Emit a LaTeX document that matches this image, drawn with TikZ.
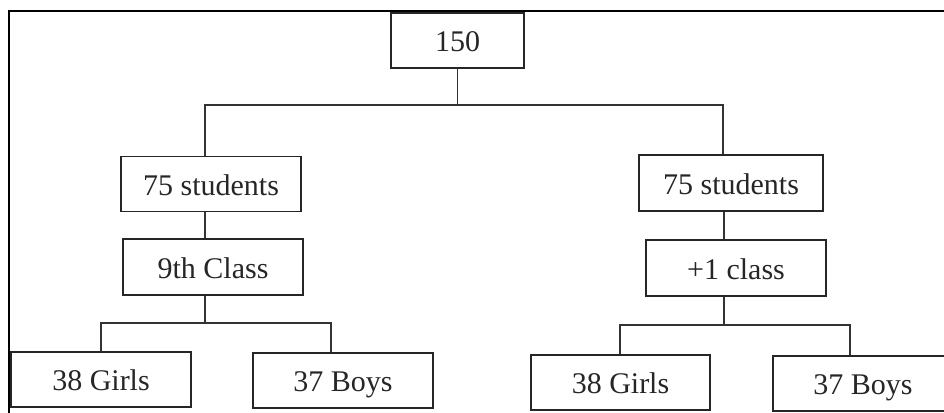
\documentclass[tikz,border=0pt]{standalone}
\usepackage{fontspec}
\setmainfont{Liberation Serif}
\begin{document}
\begin{tikzpicture}[x=1pt,y=-1pt,
  box/.style={draw=black!85,line width=1.4pt,inner sep=0pt,minimum width=180pt,minimum height=55pt,
    text height=22pt,text depth=0pt,
    font=\fontsize{30}{34}\selectfont,text=black!85},
  conn/.style={draw=black!80,line width=1.4pt}]
\useasboundingbox (0,0) rectangle (944,412);
\clip (0,0) rectangle (944,412);
\draw[line width=2.2pt] (9,420) -- (9,11) -- (950,11);
\node[box,minimum width=133pt] (top) at (457.5,40.5) {150};
\node[box] (L75) at (211,184) {75 students};
\node[box,minimum width=184pt,minimum height=56pt] (R75) at (731,183) {75 students};
\node[box,minimum height=56pt] (L9) at (213,267) {9th Class};
\node[box,minimum height=56pt] (R1) at (736,268) {+1 class};
\node[box] (LG) at (101,379.5) {38 Girls};
\node[box] (LB) at (343,380.5) {37 Boys};
\node[box,minimum width=179pt] (RG) at (620.5,382.5) {38 Girls};
\node[box] (RB) at (863,383.5) {37 Boys};
\coordinate (a1) at (205,105);
\coordinate (a2) at (723,105);
\coordinate (b1) at (101,323);
\coordinate (b2) at (331,323);
\coordinate (c0) at (724,325);
\coordinate (c1) at (620,325);
\coordinate (c2) at (850,325);
\draw[conn] (top.south) |- (a1) -- (a1 |- L75.north);
\draw[conn] (top.south) |- (a2) -- (a2 |- R75.north);
\draw[conn] (a1 |- L75.south) -- (a1 |- L9.north);
\draw[conn] (c0 |- R75.south) -- (c0 |- R1.north);
\draw[conn] (a1 |- L9.south) |- (b1) -- (b1 |- LG.north);
\draw[conn] (a1 |- L9.south) |- (b2) -- (b2 |- LB.north);
\draw[conn] (c0 |- R1.south) |- (c1) -- (c1 |- RG.north);
\draw[conn] (c0 |- R1.south) |- (c2) -- (c2 |- RB.north);
\end{tikzpicture}
\end{document}
